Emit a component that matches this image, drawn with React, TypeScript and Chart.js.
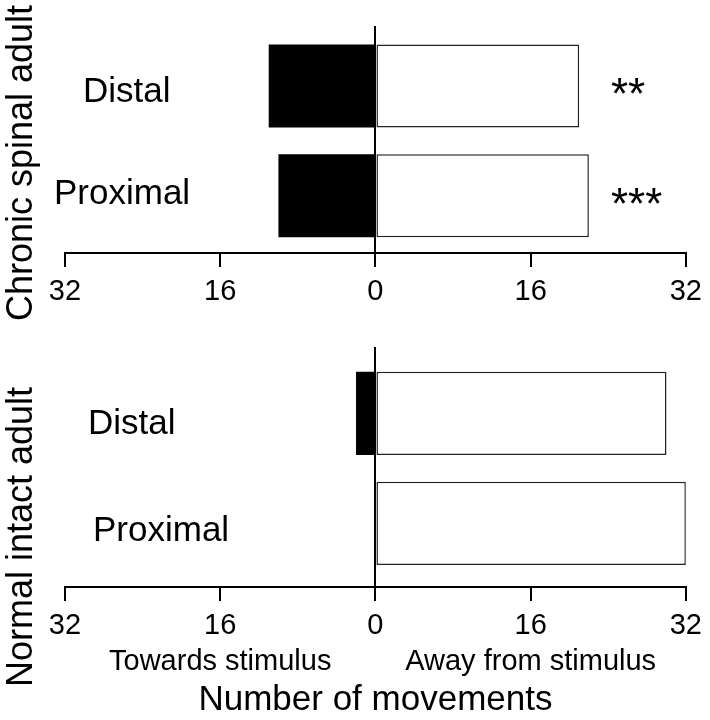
import React, { useEffect, useRef } from 'react';
import { Chart, registerables } from 'chart.js';

Chart.register(...registerables);

// ---- Data ----
const categories = ['Distal', 'Proximal'];
const xTickValues = [-32, -16, 0, 16, 32];

const spinalTowards = [11, 10]; // movements towards stimulus (plotted to the left)
const spinalAway = [21, 22]; // movements away from stimulus
const spinalSignificance = ['**', '***'];

const intactTowards = [2, 0];
const intactAway = [30, 32];
const intactSignificance = ['', ''];

const FONT = "'Liberation Sans', Arial, Helvetica, sans-serif";

type PanelProps = {
  title: string;
  towards: number[];
  away: number[];
  significance: string[];
  height: number;
  top: number;
  padding: { top: number; bottom: number; left: number; right: number };
  yMin: number;
  yMax: number;
  titleY: number;
  labelX: number[];
  labelDy: number[];
  xTitles: boolean;
};

function makeAnnotate(p: PanelProps) {
  return {
    id: 'annotate',
    afterDraw(chart: any) {
      const { ctx, chartArea, scales } = chart;
      const x = scales.x;
      const y = scales.y;
      ctx.save();
      ctx.fillStyle = '#000';
      // rotated panel title
      ctx.save();
      ctx.translate(32, p.titleY);
      ctx.rotate(-Math.PI / 2);
      ctx.font = `36px ${FONT}`;
      ctx.textAlign = 'center';
      ctx.textBaseline = 'alphabetic';
      ctx.fillText(p.title, 0, 0);
      ctx.restore();
      // category labels
      ctx.font = `35px ${FONT}`;
      ctx.textAlign = 'left';
      ctx.textBaseline = 'alphabetic';
      categories.forEach((c, i) => {
        ctx.fillText(c, p.labelX[i], y.getPixelForValue(i) + p.labelDy[i]);
      });
      // significance markers
      ctx.font = `44px ${FONT}`;
      p.significance.forEach((s, i) => {
        if (s) ctx.fillText(s, 611, y.getPixelForValue(i) + 23);
      });
      if (p.xTitles) {
        ctx.textAlign = 'center';
        ctx.font = `29px ${FONT}`;
        ctx.fillText('Towards stimulus', x.getPixelForValue(-16), chartArea.bottom + 83);
        ctx.fillText('Away from stimulus', x.getPixelForValue(16), chartArea.bottom + 83);
        ctx.font = `35px ${FONT}`;
        ctx.fillText('Number of movements', x.getPixelForValue(0), chartArea.bottom + 123);
      }
      ctx.restore();
    },
  };
}

function Panel(p: PanelProps) {
  const ref = useRef<HTMLCanvasElement | null>(null);
  useEffect(() => {
    if (!ref.current) return;
    const chart = new Chart(ref.current, {
      type: 'bar',
      data: {
        datasets: [
          {
            label: 'Towards stimulus',
            data: p.towards.map((v, i) => ({ x: -v, y: i })),
            backgroundColor: '#000',
            borderWidth: 0,
            grouped: false,
            categoryPercentage: 0.756,
            barPercentage: 1,
          },
          {
            label: 'Away from stimulus',
            data: p.away.map((v, i) => ({ x: v, y: i })),
            backgroundColor: '#fff',
            borderColor: '#222',
            borderWidth: 1.5,
            borderSkipped: false,
            grouped: false,
            categoryPercentage: 0.756,
            barPercentage: 1,
          },
        ],
      } as any,
      options: {
        indexAxis: 'y',
        animation: false,
        responsive: false,
        maintainAspectRatio: false,
        layout: { padding: p.padding },
        plugins: {
          legend: { display: false },
          tooltip: { enabled: false },
          title: { display: false },
        },
        scales: {
          y: {
            type: 'linear',
            display: false,
            reverse: true,
            offset: false,
            grid: { offset: false },
            bounds: 'data',
            min: p.yMin,
            max: p.yMax,
            afterBuildTicks: (scale: any) => {
              scale.ticks = categories.map((_, i) => ({ value: i }));
            },
          },
          x: {
            type: 'linear',
            min: -32,
            max: 32,
            z: 1,
            afterBuildTicks: (scale: any) => {
              scale.ticks = xTickValues.map((v) => ({ value: v }));
            },
            afterFit: (scale: any) => {
              scale.height = 60;
            },
            border: { display: true, color: '#000', width: 2 },
            grid: {
              display: true,
              drawOnChartArea: true,
              drawTicks: true,
              tickLength: 14,
              tickWidth: 2,
              tickColor: '#000',
              lineWidth: 2,
              color: (c: any) => (c.tick && c.tick.value === 0 ? '#000' : 'rgba(0,0,0,0)'),
            },
            ticks: {
              color: '#000',
              padding: 8,
              maxRotation: 0,
              autoSkip: false,
              font: { family: FONT, size: 29 },
              callback: (v: any) => String(Math.abs(Number(v))),
            },
          },
        },
      } as any,
      plugins: [makeAnnotate(p)],
    });
    return () => chart.destroy();
  }, []);
  return (
    <canvas
      ref={ref}
      width={710}
      height={p.height}
      style={{ position: 'absolute', left: 0, top: p.top, width: 710, height: p.height, display: 'block' }}
    />
  );
}

export default function App() {
  return (
    <div style={{ position: 'absolute', left: 0, top: 0, width: 710, height: 720, background: '#fff' }}>
      <Panel
        title="Chronic spinal adult"
        towards={spinalTowards}
        away={spinalAway}
        significance={spinalSignificance}
        top={0}
        height={330}
        padding={{ top: 26, bottom: 17, left: 65, right: 20 }}
        yMin={-0.546}
        yMax={1.521}
        titleY={163}
        labelX={[83, 54]}
        labelDy={[16, 8]}
        xTitles={false}
      />
      <Panel
        title="Normal intact adult"
        towards={intactTowards}
        away={intactAway}
        significance={intactSignificance}
        top={330}
        height={390}
        padding={{ top: 17, bottom: 73, left: 65, right: 20 }}
        yMin={-0.603}
        yMax={1.579}
        titleY={207}
        labelX={[88, 93]}
        labelDy={[21, 18]}
        xTitles={true}
      />
    </div>
  );
}
